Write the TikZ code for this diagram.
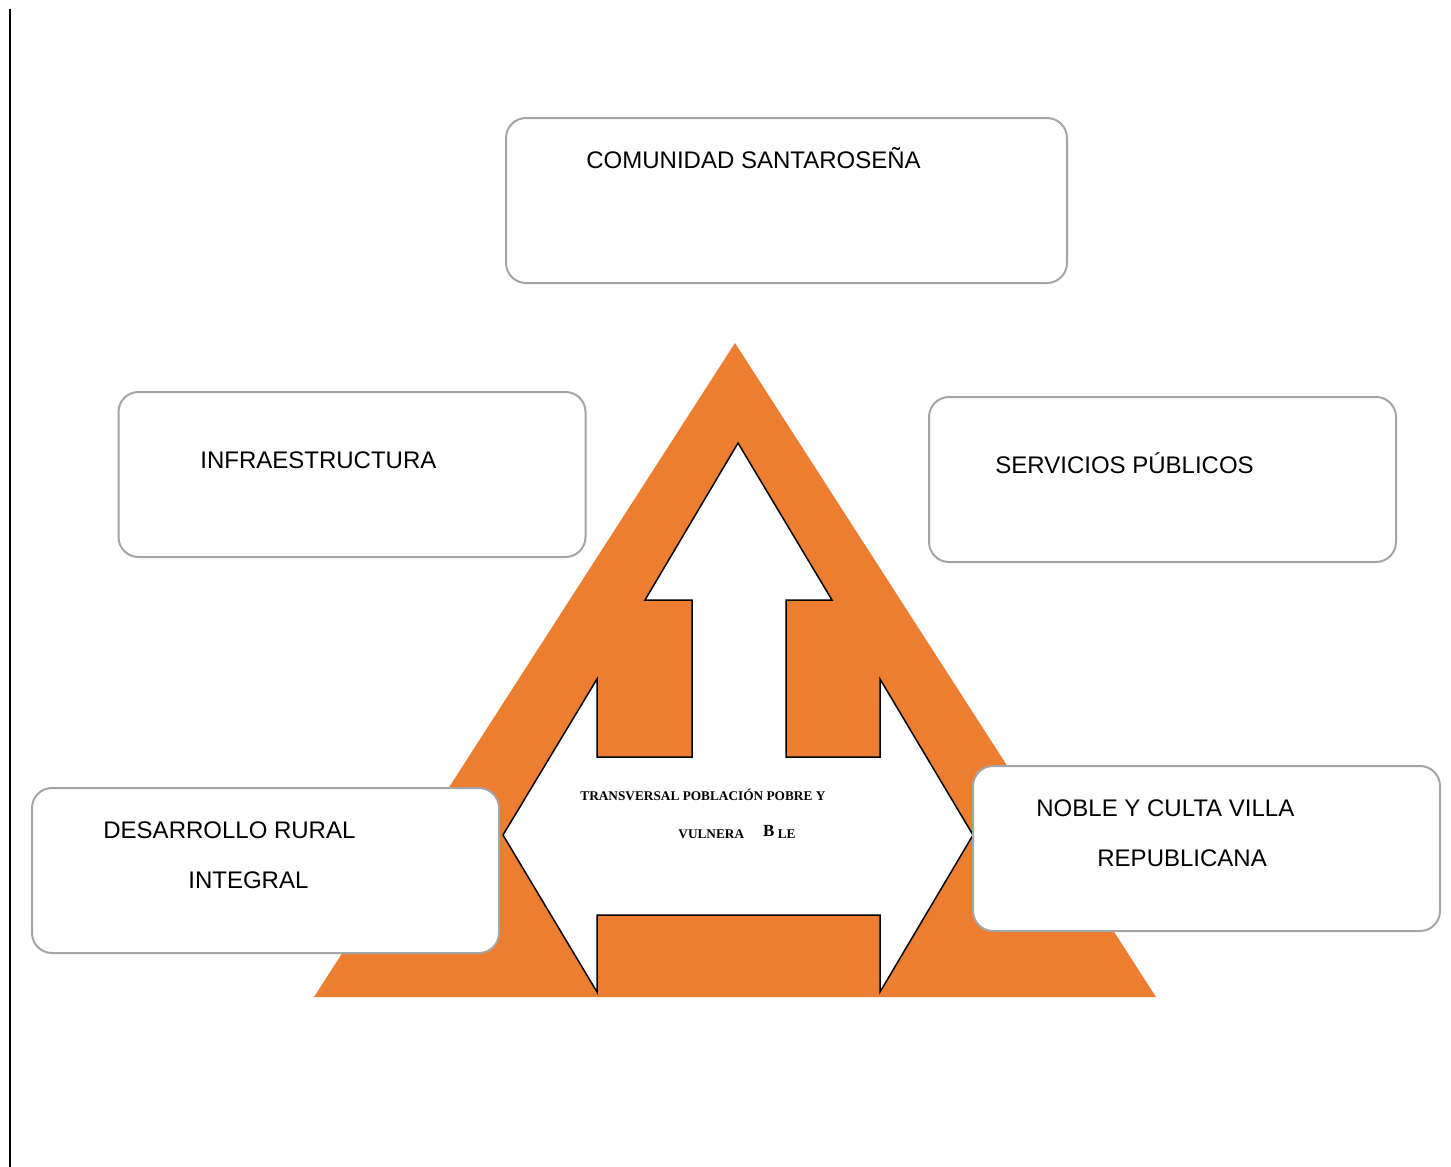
\documentclass[tikz,border=0pt]{standalone}
\usepackage{fontspec}
\setmainfont{Liberation Sans}
\newfontfamily\timesfont{Liberation Serif}
\usepackage{tikz}
\usetikzlibrary{positioning}

\definecolor{triorange}{HTML}{ED7D31}
\definecolor{boxgray}{HTML}{A5A5A5}

\begin{document}
\begin{tikzpicture}[x=0.5pt,y=-0.5pt]
  \tikzstyle{box}=[rectangle,rounded corners=10pt,draw=boxgray,line width=1pt,
  			  fill=white,minimum width=233.5pt,minimum height=82.5pt]
  \tikzstyle{boxtext}=[anchor=west,inner sep=0pt,align=left,
  			  font=\fontsize{12}{25}\selectfont]
  \tikzstyle{arrowtext}=[anchor=west,inner sep=0pt,align=left,
  			  font=\timesfont\bfseries\fontsize{6.65}{19}\selectfont]

  \useasboundingbox (0,0) rectangle (1451,1167);

  % margin line
  \coordinate (mtop) at (10,9);
  \coordinate (mbot) at (10,1167);
  \draw[line width=1pt] (mtop) -- (mbot);

  % triangle
  \fill[triorange] (735,343) -- (1156,997) -- (314,997) -- cycle;

  % three-way arrow
  \draw[fill=white,line width=0.75pt,line join=miter]
    (738,443) -- (832,600) -- (786,600) -- (786,757) -- (880,757) -- (880,679)
    -- (973,835) -- (880,992) -- (880,915) -- (597,915) -- (597,992)
    -- (503,835) -- (597,679) -- (597,757) -- (692,757) -- (692,600)
    -- (645,600) -- cycle;

  \node[arrowtext] (center) at (580,814)
    {TRANSVERSAL POBLACIÓN POBRE Y\\
     \hspace*{49pt}VULNERA\hspace{9.5pt}\raisebox{1pt}{\fontsize{8.5}{8}\selectfont B} LE};

  % boxes
  \node[box,minimum width=280.5pt] (comunidad) at (786.5,200.5) {};
  \node[box] (infra) at (352,474.5) {};
  \node[box] (servicios) at (1162.5,479.5) {};
  \node[box] (desarrollo) at (265.5,870.5) {};
  \node[box] (noble) at (1206.5,848.5) {};

  \node[boxtext] (comunidadtxt) at (586,158) {COMUNIDAD SANTAROSEÑA};
  \node[boxtext] (infratxt) at (200,460) {INFRAESTRUCTURA};
  \node[boxtext] (serviciostxt) at (995,463) {SERVICIOS PÚBLICOS};
  \node[boxtext] (desarrollotxt) at (103,855)
    {DESARROLLO RURAL\\\hspace*{42.5pt}INTEGRAL};
  \node[boxtext] (nobletxt) at (1036,833)
    {NOBLE Y CULTA VILLA\\\hspace*{30.5pt}REPUBLICANA};
\end{tikzpicture}
\end{document}
